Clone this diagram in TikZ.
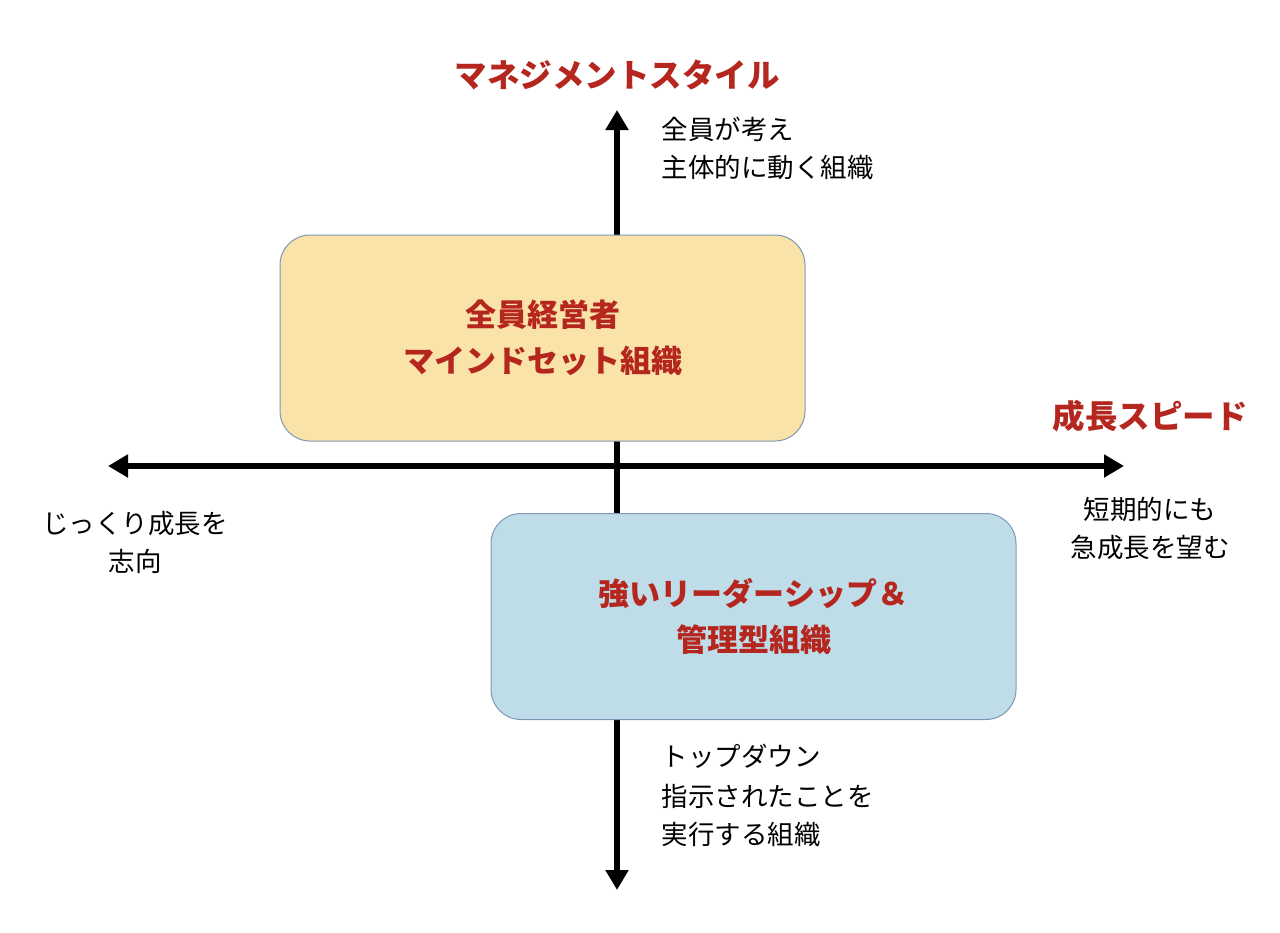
\documentclass[tikz,border=0pt]{standalone}
\usepackage{fontspec}
\setmainfont{Noto Sans CJK JP}
\usetikzlibrary{arrows.meta}
\definecolor{ttl}{HTML}{B5261E}
\definecolor{org}{HTML}{FAE3A9}
\definecolor{blu}{HTML}{BFDDE8}
\definecolor{bdr}{HTML}{7F97B5}
\begin{document}
\begin{tikzpicture}[x=1pt,y=-1pt,
 ax/.style={line width=6pt,-{Triangle[length=20pt,width=22pt]}},
 box/.style={draw=bdr,line width=1pt,rounded corners=30pt,minimum width=525pt,minimum height=206pt,align=center,text=ttl,font=\fontsize{31}{46}\selectfont\bfseries},
 ttlf/.style={text=ttl,font=\fontsize{32.5}{38}\selectfont\bfseries},
 lbl/.style={align=left,font=\fontsize{26.5}{38}\selectfont}]
\useasboundingbox (0,0) rectangle (1280,932);
\coordinate (c) at (617,466);
\coordinate (t) at (617,110);
\coordinate (b) at (617,890);
\coordinate (l) at (108,466);
\coordinate (r) at (1124,466);
\draw[ax] (c) -- (t);
\draw[ax] (c) -- (b);
\draw[ax] (c) -- (l);
\draw[ax] (c) -- (r);
\node[box,fill=org] (o) at (542.5,338) {全員経営者\\マインドセット組織};
\node[box,fill=blu] (bl) at (753.5,616.5) {強いリーダーシップ＆\\管理型組織};
\node[ttlf] (v) at (617,75) {マネジメントスタイル};
\node[ttlf] (h) at (1150,416) {成長スピード};
\node[lbl,anchor=north west] (tl) at (658,114) {全員が考え\\主体的に動く組織};
\node[lbl,anchor=north west] (bl1) at (658,741) {トップダウン};
\node[lbl,anchor=north west] (bl2) at (658,781) {指示されたことを\\実行する組織};
\node[lbl,align=center] (ll) at (135,542) {じっくり成長を\\志向};
\node[lbl,align=center] (rl) at (1150,528) {短期的にも\\急成長を望む};
\end{tikzpicture}
\end{document}
